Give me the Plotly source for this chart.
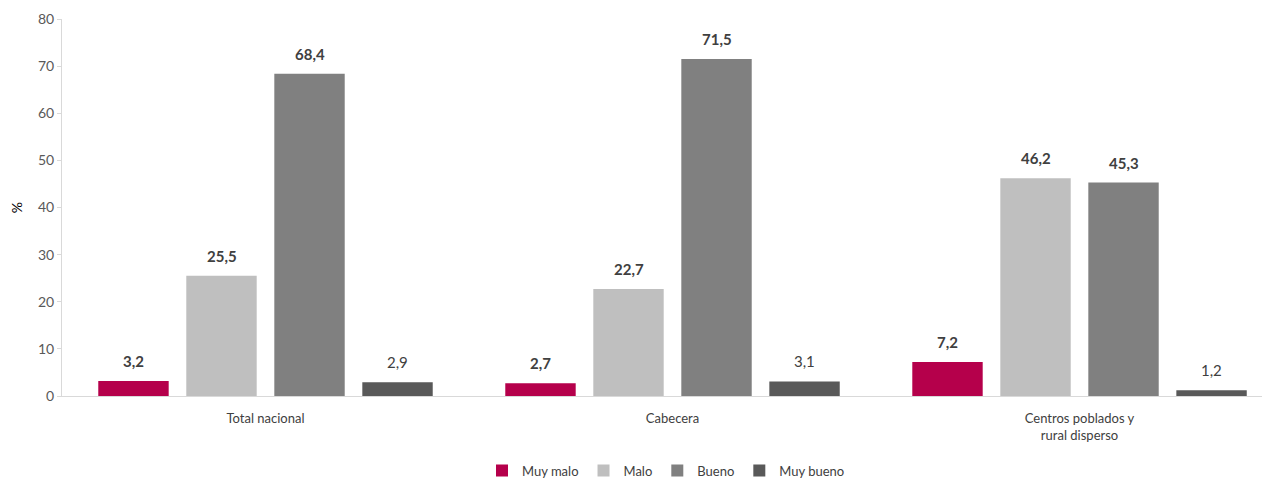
import plotly.graph_objects as go

categories = ["Total nacional", "Cabecera", "Centros poblados y<br>rural disperso"]
series_names = ["Muy malo", "Malo", "Bueno", "Muy bueno"]
muy_malo = [3.2, 2.7, 7.2]
malo = [25.5, 22.7, 46.2]
bueno = [68.4, 71.5, 45.3]
muy_bueno = [2.9, 3.1, 1.2]
series_values = [muy_malo, malo, bueno, muy_bueno]
colors = ["#B5004B", "#BFBFBF", "#808080", "#595959"]
bold = [True, True, True, False]

FONT = "Lato"
TXT = "#404040"
bargap = 0.135
n = len(series_names)
slot = (1 - bargap) / n

fig = go.Figure()
for i, (name, vals, col) in enumerate(zip(series_names, series_values, colors)):
    fig.add_trace(go.Bar(name=name, x=list(range(len(categories))), y=vals,
                         marker=dict(color=col, line=dict(width=0))))
    for ci, v in enumerate(vals):
        lab = f"{v:.1f}".replace(".", ",")
        fig.add_annotation(x=ci + (i - (n - 1) / 2) * slot, y=v, xref="x", yref="y",
                           text=f"<b>{lab}</b>" if bold[i] else lab,
                           showarrow=False, yanchor="bottom", yshift=9,
                           font=dict(family=FONT, size=15, color=TXT))

fig.update_layout(
    width=1262, height=471,
    margin=dict(l=54, r=0, t=11, b=83, autoexpand=False),
    paper_bgcolor="white", plot_bgcolor="white",
    barmode="group", bargap=bargap, bargroupgap=0.2,
    font=dict(family=FONT, size=13, color=TXT),
    legend=dict(orientation="h", x=0.5, xanchor="center", y=-0.158, yanchor="top",
                font=dict(family=FONT, size=13, color=TXT), itemwidth=30,
                traceorder="normal"),
    showlegend=True,
)
fig.update_xaxes(tickmode="array", tickvals=list(range(len(categories))), ticktext=categories,
                 range=[-0.5, 2.468], showline=True, linecolor="#D9D9D9", linewidth=1,
                 ticks="outside", ticklen=10, tickcolor="rgba(0,0,0,0)", automargin=False,
                 showgrid=False, zeroline=False,
                 tickfont=dict(family=FONT, size=13, color=TXT))
fig.update_yaxes(range=[0, 80], dtick=10, showline=True, linecolor="#D9D9D9", linewidth=1,
                 ticks="outside", ticklen=4, tickcolor="#D9D9D9", showgrid=False, zeroline=False,
                 automargin=False,
                 tickfont=dict(family=FONT, size=14, color="#595959"),
                 title=dict(text="%", font=dict(family=FONT, size=14, color="#000000"), standoff=12))

fig.write_html("out.html")
